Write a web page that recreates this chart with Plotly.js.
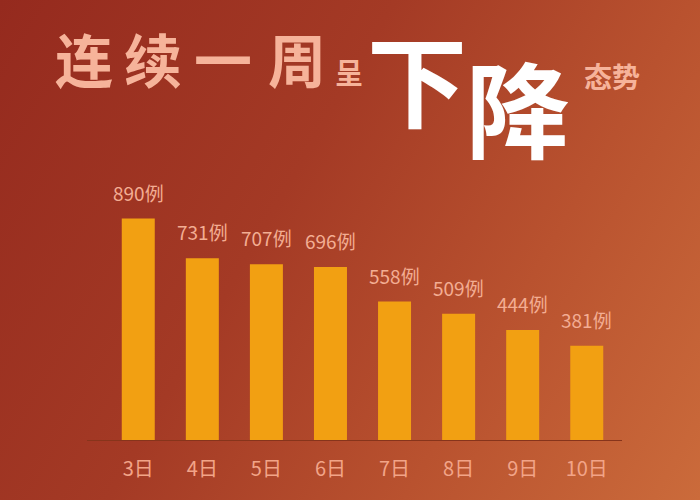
<!DOCTYPE html>
<html><head><meta charset="utf-8">
<script src="https://cdn.plot.ly/plotly-3.0.1.min.js"></script>
<style>
html,body{margin:0;padding:0;}
body{width:700px;height:500px;background:linear-gradient(120deg,#952a1e 0%,#a43a25 40%,#b9522f 70%,#cb6b3b 100%);}
#chart{width:700px;height:500px;}
</style></head>
<body><div id="chart"></div>
<script>
const days = ['3日','4日','5日','6日','7日','8日','9日','10日'];
const cases = [890, 731, 707, 696, 558, 509, 444, 381];
const caseLabels = ['890例','731例','707例','696例','558例','509例','444例','381例'];

const titleChars = ['连','续','一','周','呈','下','降','态势'];

const W = 700, H = 500, L = 87, R = 78, T = 191, B = 59;
const pw = W - L - R, ph = H - T - B;
function px(x){return (x - L)/pw;}
function py(y){return (H - B - y)/ph;}

const salmon = '#f6b39a';
const cjk = '"Noto Sans CJK SC", "Noto Sans", sans-serif';
const titleSpec = [
  {x:84, y:58, s:58, c:salmon, w:700},
  {x:153, y:58, s:58, c:salmon, w:700},
  {x:223, y:58, s:58, c:salmon, w:700},
  {x:297, y:58, s:58, c:salmon, w:700},
  {x:349, y:72, s:28, c:salmon, w:700},
  {x:417, y:76, s:100, c:'#ffffff', w:700},
  {x:518, y:106, s:104, c:'#ffffff', w:700},
  {x:612, y:76, s:28, c:salmon, w:700}
];

const annotations = titleChars.map((t,i)=>({
  text:t, xref:'paper', yref:'paper', x:px(titleSpec[i].x), y:py(titleSpec[i].y),
  xanchor:'center', yanchor:'middle', showarrow:false,
  font:{family:cjk, size:titleSpec[i].s, color:titleSpec[i].c, weight:titleSpec[i].w}
}));

days.forEach((d,i)=>{
  annotations.push({
    text:caseLabels[i], x:d, y:cases[i], xref:'x', yref:'y',
    xanchor:'center', yanchor:'bottom', yshift:11, showarrow:false,
    font:{family:cjk, size:19, color:'#f3ad93'}
  });
});

const trace = {
  type:'bar', x:days, y:cases,
  marker:{color:'#f2a012', line:{width:0}},
  hoverinfo:'skip'
};

const layout = {
  width:W, height:H,
  margin:{l:L, r:R, t:T, b:B, pad:0},
  paper_bgcolor:'rgba(0,0,0,0)', plot_bgcolor:'rgba(0,0,0,0)',
  bargap:0.485,
  showlegend:false,
  xaxis:{type:'category', range:[-0.8, 7.55], showgrid:false, zeroline:false, showline:false,
    ticks:'outside', ticklen:10, tickcolor:'rgba(0,0,0,0)',
    tickfont:{family:cjk, size:20, color:'#f2a488'}, fixedrange:true},
  yaxis:{range:[0,1000], visible:false, fixedrange:true},
  shapes:[{type:'line', xref:'paper', yref:'y', x0:0, x1:1, y0:0, y1:0,
    line:{color:'#87341b', width:2}}],
  annotations:annotations
};

Plotly.newPlot('chart',[trace],layout,{displayModeBar:false, staticPlot:true});
</script>
</body></html>
